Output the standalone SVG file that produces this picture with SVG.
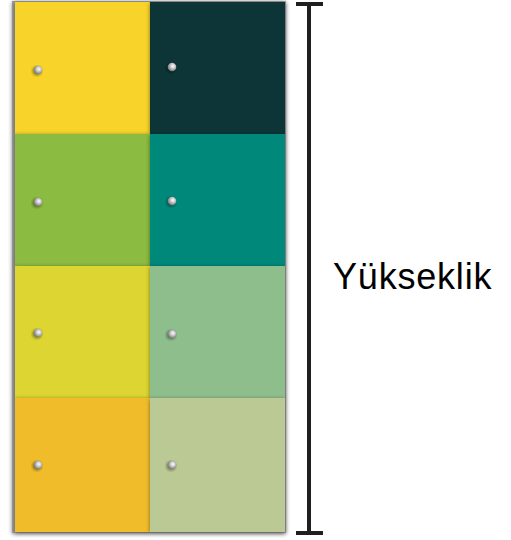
<svg xmlns="http://www.w3.org/2000/svg" width="511" height="540" viewBox="0 0 511 540">
<style>
.lbl{font-family:"Liberation Sans",Arial,sans-serif;font-size:36px;fill:#000;letter-spacing:0.8px}
.br{stroke:#1f1f1f;stroke-width:4;fill:none}
</style>
<defs>
<filter id="sh" x="-10%" y="-10%" width="120%" height="120%">
<feDropShadow dx="0" dy="1" stdDeviation="2" flood-color="#000" flood-opacity="0.45"/>
</filter>
<filter id="bl"><feGaussianBlur stdDeviation="0.8"/></filter>
<radialGradient id="pin" cx="0.6" cy="0.4" r="0.65">
<stop offset="0" stop-color="#ffffff"/>
<stop offset="0.45" stop-color="#c4c4c4"/>
<stop offset="1" stop-color="#6a6a6a"/>
</radialGradient>
<g id="p"><circle cx="-1" cy="1" r="5" fill="#000" opacity="0.3" filter="url(#bl)"/><circle r="4.3" fill="url(#pin)"/></g>
</defs>
<rect x="12" y="1" width="274" height="532" fill="#999" filter="url(#sh)"/>
<g id="n1"><rect x="15" y="2" width="135" height="132" fill="#F8D42C" filter="url(#sh)"/><use href="#p" x="38" y="70"/></g>
<g id="n2"><rect x="150" y="2" width="135" height="132" fill="#0D3539" filter="url(#sh)"/><use href="#p" x="172" y="67"/></g>
<g id="n3"><rect x="15" y="134" width="135" height="132" fill="#8BBB41" filter="url(#sh)"/><use href="#p" x="38" y="202"/></g>
<g id="n4"><rect x="150" y="134" width="135" height="132" fill="#00887A" filter="url(#sh)"/><use href="#p" x="172" y="201"/></g>
<g id="n5"><rect x="15" y="266" width="135" height="132" fill="#DCD530" filter="url(#sh)"/><use href="#p" x="38" y="333"/></g>
<g id="n6"><rect x="150" y="266" width="135" height="132" fill="#8FBE8D" filter="url(#sh)"/><use href="#p" x="172" y="334"/></g>
<g id="n7"><rect x="15" y="398" width="135" height="134" fill="#F0BC2A" filter="url(#sh)"/><use href="#p" x="38" y="465"/></g>
<g id="n8"><rect x="150" y="398" width="135" height="134" fill="#BBC994" filter="url(#sh)"/><use href="#p" x="172" y="465"/></g>
<g id="connectors">
<path class="br" d="M296 4H323M309 4V533M296 533H323"/>
</g>
<g id="label"><text class="lbl" x="333" y="289">Yükseklik</text></g>
</svg>
